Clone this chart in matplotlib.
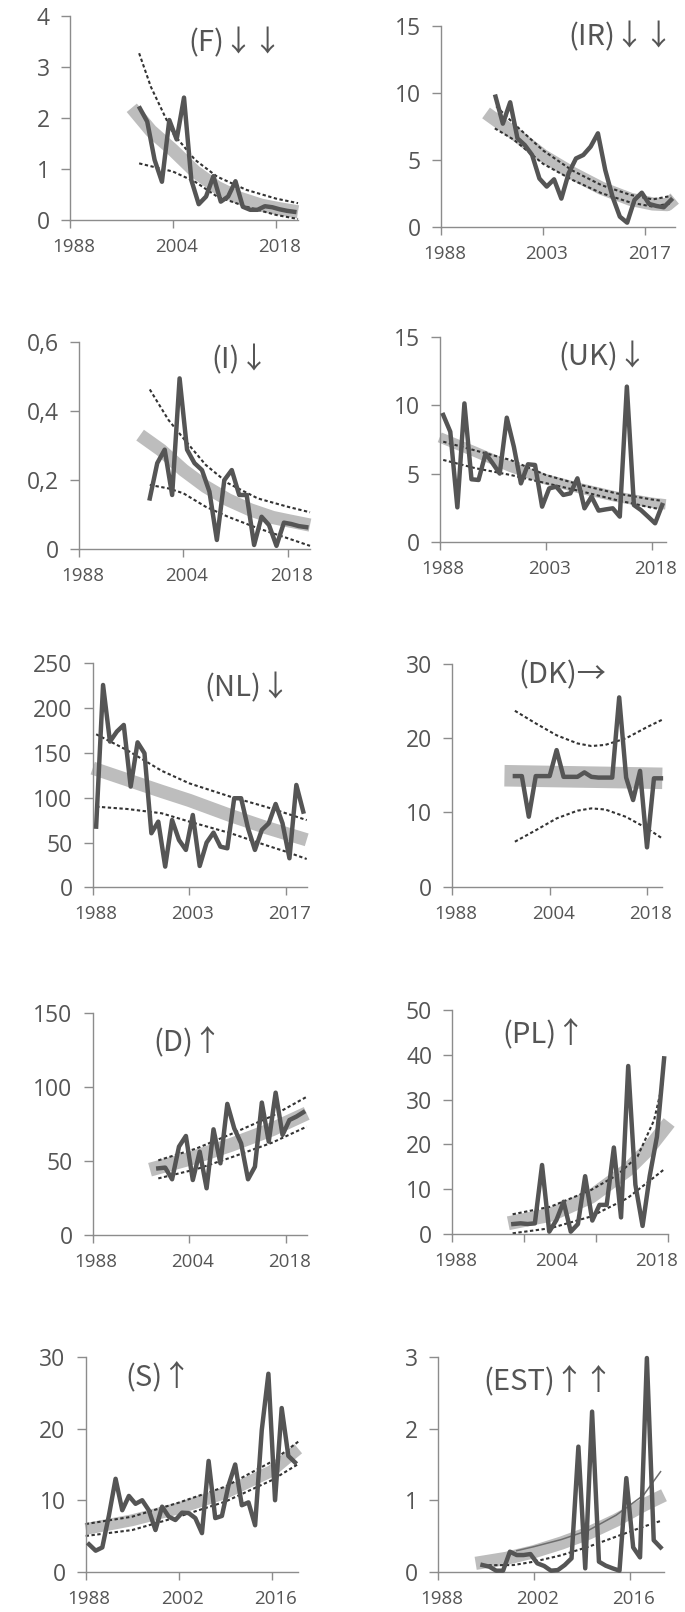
import numpy as np
import matplotlib
matplotlib.use("Agg")
import matplotlib.pyplot as plt

plt.rcParams['font.family'] = ['Open Sans', 'DejaVu Sans']

# ---------------- data (category index of first point, yearly values) ----------------
F_start = 9.5
F_vals = [2.19, 1.93, 1.18, 0.75, 1.96, 1.58, 2.40, 0.78, 0.31, 0.46, 0.86, 0.36, 0.46,
          0.76, 0.26, 0.20, 0.20, 0.27, 0.25, 0.21, 0.18, 0.16]
F_band_x = [8.4, 11, 14, 17, 20, 23, 26, 28.5, 31]
F_band_y = [2.2, 1.75, 1.37, 0.95, 0.64, 0.43, 0.29, 0.22, 0.16]
F_up_x = [9.4, 11, 14, 17, 20, 24, 28, 31]
F_up_y = [3.27, 2.61, 1.70, 1.18, 0.85, 0.59, 0.42, 0.33]
F_lo_x = [9.4, 14, 17, 20, 24, 28, 31]
F_lo_y = [1.11, 0.95, 0.75, 0.46, 0.26, 0.10, 0.02]

IR_start = 7.5
IR_vals = [9.72, 7.7, 9.3, 6.6, 6.1, 5.36, 3.6, 3.0, 3.54, 2.1, 4.0, 5.1, 5.36, 5.98,
           6.98, 4.24, 2.24, 0.75, 0.3, 2.0, 2.54, 1.7, 1.55, 1.45, 2.0]
IR_band_x = [6.2, 10, 14, 18, 22, 26, 29, 31, 32]
IR_band_y = [8.5, 7.0, 5.3, 4.0, 2.87, 2.04, 1.7, 1.65, 2.1]
IR_up_x = [7.6, 10, 14, 18, 22, 26, 29, 31.5]
IR_up_y = [9.0, 7.7, 5.7, 4.2, 3.1, 2.37, 2.04, 2.3]
IR_lo_x = [7.4, 10, 14, 18, 22, 26, 29, 31.5]
IR_lo_y = [7.35, 6.5, 4.7, 3.5, 2.5, 1.8, 1.5, 1.75]

I_start = 9.5
I_vals = [0.147, 0.249, 0.288, 0.157, 0.494, 0.288, 0.249, 0.229, 0.167, 0.027, 0.200,
          0.229, 0.157, 0.157, 0.0125, 0.094, 0.07, 0.01, 0.077, 0.073, 0.067, 0.064]
I_band_x = [8.2, 11, 14, 17, 20, 23, 26, 28, 31]
I_band_y = [0.33, 0.287, 0.229, 0.181, 0.143, 0.114, 0.092, 0.083, 0.070]
I_up_x = [9.5, 12, 14, 17, 20, 24, 28, 31]
I_up_y = [0.462, 0.374, 0.321, 0.244, 0.191, 0.147, 0.123, 0.107]
I_lo_x = [9.5, 12, 14, 17, 20, 24, 28, 31]
I_lo_y = [0.186, 0.176, 0.162, 0.123, 0.094, 0.061, 0.032, 0.010]

UK_start = 0.5
UK_vals = [9.3, 8.07, 2.52, 10.15, 4.58, 4.53, 6.48, 5.75, 5.0, 9.1, 6.97, 4.28, 5.68,
           5.63, 2.57, 3.91, 4.04, 3.43, 3.55, 4.65, 2.45, 3.3, 2.28, 2.37, 2.45, 1.84,
           11.38, 2.69, 2.32, 1.84, 1.35, 2.69]
UK_band_x = [0, 5, 10, 15, 20, 25, 30, 32]
UK_band_y = [7.66, 6.6, 5.5, 4.58, 3.9, 3.3, 2.86, 2.74]
UK_up_x = [0.5, 5, 10, 15, 20, 25, 30, 31.5]
UK_up_y = [7.34, 6.7, 6.0, 4.9, 4.16, 3.55, 3.1, 3.0]
UK_lo_x = [0.5, 5, 10, 15, 20, 25, 30, 31.5]
UK_lo_y = [6.0, 5.4, 4.9, 4.3, 3.7, 3.06, 2.5, 2.37]

NL_start = 0.5
NL_vals = [67.7, 225.8, 162.6, 173.8, 181.2, 112.4, 161.8, 149.6, 60.3, 73.3, 23.1, 75.1,
           52.8, 41.7, 80.7, 23.8, 49.9, 61.0, 45.4, 43.5, 99.4, 99.4, 65.9, 41.7, 64.0,
           71.4, 93.0, 71.4, 32.4, 114.2, 84.5]
NL_band_x = [0, 5, 10, 14, 20, 25, 28, 31]
NL_band_y = [133, 120, 107, 97, 80, 67, 60, 53]
NL_up_x = [0.5, 5, 10, 14, 20, 25, 28, 31]
NL_up_y = [170.8, 153, 130, 116, 101, 90, 82.6, 75]
NL_lo_x = [0.5, 5, 10, 14, 20, 25, 28, 31]
NL_lo_y = [90, 87.4, 82.6, 73.3, 60.3, 47.2, 39.8, 31.6]

DK_start = 9.0
DK_vals = [14.9, 14.9, 9.43, 14.9, 14.9, 14.9, 18.4, 14.8, 14.8, 14.8, 15.4, 14.8, 14.7,
           14.7, 14.7, 25.5, 14.7, 11.67, 15.6, 5.3, 14.6, 14.6]
DK_band_x = [7.5, 30.2]
DK_band_y = [14.95, 14.6]
DK_up_x = [9, 12, 15, 18, 20, 22, 25, 28, 30.2]
DK_up_y = [23.7, 22.0, 20.4, 19.3, 18.95, 19.1, 20.0, 21.5, 22.5]
DK_lo_x = [9, 12, 15, 18, 20, 22, 25, 28, 30.2]
DK_lo_y = [6.06, 7.6, 9.2, 10.24, 10.55, 10.4, 9.4, 7.86, 6.5]

D_start = 9.5
D_vals = [45.1, 45.6, 37.7, 59.8, 67.0, 37.2, 56.4, 31.6, 71.5, 48.5, 88.7, 72.2, 62.0,
          37.7, 46.2, 89.6, 63.2, 96.3, 67.7, 77.8, 80.1, 83.0]
D_band_x = [8.3, 14, 20, 26, 31]
D_band_y = [44.2, 51.5, 60.9, 71.5, 82.3]
D_up_x = [9.5, 15, 20, 26, 31]
D_up_y = [50.5, 58.5, 68.2, 80.5, 93.5]
D_lo_x = [9.5, 15, 20, 26, 31]
D_lo_y = [38.3, 44.5, 52.4, 62.5, 73.3]

PL_start = 8.5
PL_vals = [2.23, 2.38, 2.23, 2.38, 15.4, 0.52, 3.1, 7.2, 0.52, 2.23, 12.9, 3.0, 6.5, 6.5,
           19.3, 3.7, 37.5, 11.0, 1.8, 13.0, 21.7, 39.2]
PL_band_x = [7.8, 13.7, 19.3, 24.4, 27.2, 30.2]
PL_band_y = [2.4, 4.3, 8.3, 14.3, 18.75, 24.9]
PL_up_x = [8.4, 13.7, 19.3, 23.0, 25.8, 28.1, 29.4]
PL_up_y = [4.4, 6.1, 9.8, 13.2, 17.3, 25.4, 34.4]
PL_lo_x = [8.4, 13.7, 19.3, 24.4, 29.4]
PL_lo_y = [0.15, 1.3, 3.9, 8.0, 14.3]

S_start = 0.5
S_vals = [3.83, 2.94, 3.4, 7.9, 13.0, 8.6, 10.6, 9.5, 10.0, 8.6, 5.83, 9.1, 7.7, 7.23,
          8.26, 8.2, 7.5, 5.4, 15.5, 7.5, 7.8, 12.1, 15.0, 9.3, 9.7, 6.5, 19.8, 27.7,
          10.0, 22.9, 16.2, 15.3]
S_band_x = [0, 7, 14, 21, 28, 32]
S_band_y = [5.97, 7.2, 8.87, 11.0, 14.1, 17.2]
S_up_x = [0, 7, 14, 21, 28, 32]
S_up_y = [6.67, 7.7, 9.66, 11.9, 15.4, 18.2]
S_lo_x = [0, 7, 14, 21, 28, 32]
S_lo_y = [5.0, 5.83, 7.7, 9.8, 12.8, 15.07]

EST_start = 6.5
EST_vals = [0.093, 0.07, 0.014, 0.014, 0.28, 0.233, 0.233, 0.247, 0.117, 0.08, 0.014,
            0.023, 0.093, 0.187, 1.75, 0.047, 2.24, 0.14, 0.084, 0.047, 0.014, 1.31,
            0.34, 0.2, 2.99, 0.44, 0.34]
EST_band_x = [5.5, 10, 14, 18, 22, 26, 30, 33]
EST_band_y = [0.117, 0.187, 0.28, 0.40, 0.54, 0.72, 0.93, 1.07]
EST_up_x = [11.5, 14, 18, 22, 26, 30, 32.5]
EST_up_y = [0.294, 0.35, 0.45, 0.58, 0.79, 1.07, 1.4]
EST_lo_x = [6.5, 11, 14, 18, 22, 26, 30, 32.5]
EST_lo_y = [0.09, 0.093, 0.14, 0.23, 0.35, 0.49, 0.63, 0.71]

# ---------------- styling / layout ----------------
W, H = 685, 1612
LINE = '#555555'
BAND = '#bdbdbd'
DOT = '#333333'
AXC = '#8c8c8c'
TXT = '#555555'

fig = plt.figure(figsize=(W / 100, H / 100), dpi=100)

panels = [
    dict(box=(70, 298, 16, 220), N=31, ymax=4, yt=[0, 1, 2, 3, 4], yl=['0', '1', '2', '3', '4'],
         xt=[0, 14, 28], xl=['1988', '2004', '2018'], lpos=[0.5, 14.5, 28.5],
         start=F_start, vals=F_vals, band=(F_band_x, F_band_y), up=(F_up_x, F_up_y),
         lo=(F_lo_x, F_lo_y), blw=9.5, title='(F)↓↓', txy=(235, 43)),
    dict(box=(440.7, 674.7, 26, 226.7), N=32, ymax=15, yt=[0, 5, 10, 15], yl=['0', '5', '10', '15'],
         xt=[0, 14, 28], xl=['1988', '2003', '2017'], lpos=[0.5, 14.5, 28.5],
         start=IR_start, vals=IR_vals, band=(IR_band_x, IR_band_y), up=(IR_up_x, IR_up_y),
         lo=(IR_lo_x, IR_lo_y), blw=9.5, title='(IR)↓↓', txy=(621, 37)),
    dict(box=(79, 310, 341.7, 549.3), N=31, ymax=0.6, yt=[0, 0.2, 0.4, 0.6], yl=['0', '0,2', '0,4', '0,6'],
         xt=[0, 14, 28], xl=['1988', '2004', '2018'], lpos=[0.5, 14.5, 28.5],
         start=I_start, vals=I_vals, band=(I_band_x, I_band_y), up=(I_up_x, I_up_y),
         lo=(I_lo_x, I_lo_y), blw=9.5, title='(I)↓', txy=(240, 360)),
    dict(box=(439.7, 665.7, 337.3, 541.7), N=32, ymax=15, yt=[0, 5, 10, 15], yl=['0', '5', '10', '15'],
         xt=[0, 15, 30], xl=['1988', '2003', '2018'], lpos=[0.5, 15.5, 30.5],
         start=UK_start, vals=UK_vals, band=(UK_band_x, UK_band_y), up=(UK_up_x, UK_up_y),
         lo=(UK_lo_x, UK_lo_y), blw=7.5, title='(UK)↓', txy=(603, 357)),
    dict(box=(92.7, 306.7, 663.3, 887.3), N=31, ymax=250, yt=[0, 50, 100, 150, 200, 250],
         yl=['0', '50', '100', '150', '200', '250'],
         xt=[0, 14, 28], xl=['1988', '2003', '2017'], lpos=[0.5, 14.5, 28.5],
         start=NL_start, vals=NL_vals, band=(NL_band_x, NL_band_y), up=(NL_up_x, NL_up_y),
         lo=(NL_lo_x, NL_lo_y), blw=9.5, title='(NL)↓', txy=(247, 688)),
    dict(box=(452.3, 662.3, 664, 886.7), N=30.2, ymax=30, yt=[0, 10, 20, 30], yl=['0', '10', '20', '30'],
         xt=[0, 14, 28], xl=['1988', '2004', '2018'], lpos=[0.5, 14.5, 28.5],
         start=DK_start, vals=DK_vals, band=(DK_band_x, DK_band_y), up=(DK_up_x, DK_up_y),
         lo=(DK_lo_x, DK_lo_y), blw=15.5, title='(DK)→', txy=(562, 675)),
    dict(box=(92.7, 306.7, 1013.3, 1235), N=31, ymax=150, yt=[0, 50, 100, 150], yl=['0', '50', '100', '150'],
         xt=[0, 14, 28], xl=['1988', '2004', '2018'], lpos=[0.5, 14.5, 28.5],
         start=D_start, vals=D_vals, band=(D_band_x, D_band_y), up=(D_up_x, D_up_y),
         lo=(D_lo_x, D_lo_y), blw=10, title='(D)↑', txy=(188, 1043)),
    dict(box=(452.3, 667.7, 1010, 1234), N=30, ymax=50, yt=[0, 10, 20, 30, 40, 50],
         yl=['0', '10', '20', '30', '40', '50'],
         xt=[0, 10, 20, 30], xl=['1988', '2004', '2018'], lpos=[0.5, 14.5, 28.5],
         start=PL_start, vals=PL_vals, band=(PL_band_x, PL_band_y), up=(PL_up_x, PL_up_y),
         lo=(PL_lo_x, PL_lo_y), blw=10, title='(PL)↑', txy=(544, 1035)),
    dict(box=(85.7, 298.3, 1357.3, 1571.7), N=32, ymax=30, yt=[0, 10, 20, 30], yl=['0', '10', '20', '30'],
         xt=[0, 14, 28], xl=['1988', '2002', '2016'], lpos=[0.5, 14.5, 28.5],
         start=S_start, vals=S_vals, band=(S_band_x, S_band_y), up=(S_up_x, S_up_y),
         lo=(S_lo_x, S_lo_y), blw=8.5, title='(S)↑', txy=(159, 1378)),
    dict(box=(438, 664, 1357.3, 1571.7), N=33, ymax=3, yt=[0, 1, 2, 3], yl=['0', '1', '2', '3'],
         xt=[0, 14, 28], xl=['1988', '2002', '2016'], lpos=[0.5, 14.5, 28.5],
         start=EST_start, vals=EST_vals, band=(EST_band_x, EST_band_y), up=(EST_up_x, EST_up_y),
         lo=(EST_lo_x, EST_lo_y), blw=9.5, title='(EST)↑↑', txy=(548, 1382), solid_up=True),
]

for p in panels:
    l, r, t, b = p['box']
    ax = fig.add_axes([l / W, 1 - b / H, (r - l) / W, (b - t) / H])
    ax.set_xlim(0, p['N'])
    ax.set_ylim(0, p['ymax'])
    for s in ('top', 'right'):
        ax.spines[s].set_visible(False)
    for s in ('left', 'bottom'):
        ax.spines[s].set_color(AXC)
        ax.spines[s].set_linewidth(1.0)
    ax.set_yticks(p['yt'])
    ax.set_yticklabels(p['yl'])
    ax.set_xticks(p['xt'])
    ax.set_xticklabels([''] * len(p['xt']))
    ax.set_xticks(p['lpos'], minor=True)
    ax.set_xticklabels(p['xl'], minor=True)
    ax.tick_params(axis='y', length=6.5, width=1.0, color=AXC, labelcolor=TXT,
                   labelsize=16.5, pad=8)
    ax.tick_params(axis='x', which='major', length=6, width=1.0, color=AXC)
    ax.tick_params(axis='x', which='minor', length=0, labelcolor=TXT, labelsize=13.5, pad=13)
    ax.patch.set_alpha(0)

    bx, by = p['band']
    ax.plot(bx, by, color=BAND, lw=p['blw'], solid_capstyle='butt', zorder=1, clip_on=False)
    ux, uy = p['up']
    if p.get('solid_up'):
        ax.plot(ux, uy, color='#6e6e6e', lw=1.1, zorder=2, clip_on=False)
    else:
        ax.plot(ux, uy, color=DOT, lw=1.5, dashes=(1.6, 1.2), zorder=2, clip_on=False)
    lx, ly = p['lo']
    ax.plot(lx, ly, color=DOT, lw=1.5, dashes=(1.6, 1.2), zorder=2, clip_on=False)

    xs = p['start'] + np.arange(len(p['vals']))
    ax.plot(xs, p['vals'], color=LINE, lw=3.2, solid_joinstyle='round', zorder=3, clip_on=False)

    tx, ty = p['txy']
    fig.text(tx / W, 1 - ty / H, p['title'], ha='center', va='center', fontsize=21,
             color=TXT, family=['Noto Sans CJK JP', 'DejaVu Sans'])

fig.savefig('out.png', dpi=100)
